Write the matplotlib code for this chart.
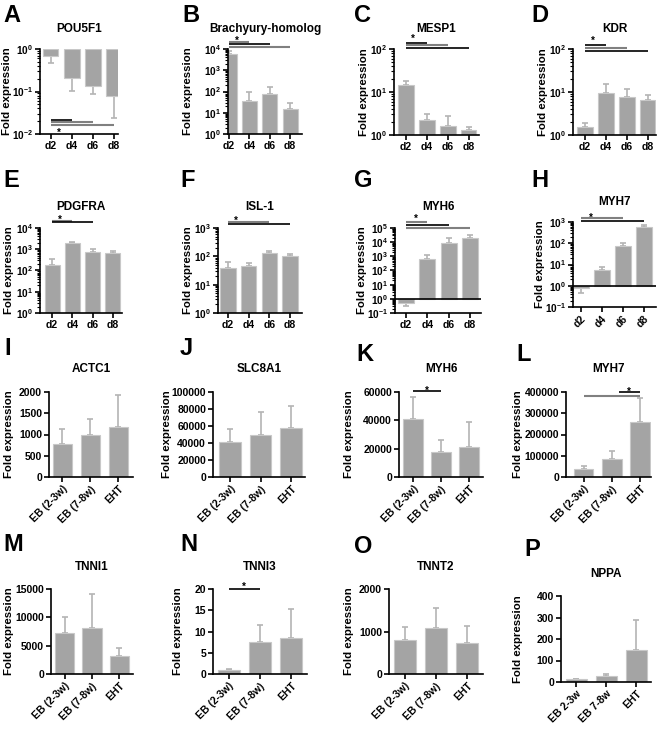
import numpy as np
import matplotlib
matplotlib.use("Agg")
import matplotlib.pyplot as plt
from matplotlib.ticker import FuncFormatter, LogLocator, NullFormatter, MultipleLocator

plt.rcParams.update({
    "font.family": ["Liberation Sans", "DejaVu Sans"],
    "font.weight": "bold",
    "font.size": 7.5,
    "mathtext.fontset": "custom",
    "mathtext.rm": "Liberation Sans:bold",
    "mathtext.bf": "Liberation Sans:bold",
    "axes.linewidth": 1.2,
})

# ---- data -------------------------------------------------------------
days = ["d2", "d4", "d6", "d8"]
groups = ["EB (2-3w)", "EB (7-8w)", "EHT"]
groups_nppa = ["EB 2-3w", "EB 7-8w", "EHT"]

# mean and tip of the error bar per group
pou5f1 = [0.68, 0.205, 0.137, 0.079]
pou5f1_err = [0.48, 0.105, 0.086, 0.024]
brachyury = [5600, 35, 74, 14.5]
brachyury_err = [8300, 91, 170, 28]
mesp1 = [14.6, 2.24, 1.65, 1.3]
mesp1_err = [18.3, 3.1, 2.7, 1.56]
kdr = [1.55, 9.4, 7.6, 6.5]
kdr_err = [1.95, 15.4, 11.6, 8.5]
pdgfra = [180, 1900, 740, 660]
pdgfra_err = [350, 2200, 1080, 830]
isl1 = [38, 46, 134, 103]
isl1_err = [65, 57, 158, 118]
myh6_days = [0.51, 610, 9100, 21000]
myh6_days_err = [0.33, 1180, 18700, 30000]
myh7_days = [0.81, 5.3, 77, 600]
myh7_days_err = [0.47, 7.9, 100, 720]

actc1 = [784, 996, 1180]
actc1_err = [1137, 1375, 1935]
slc8a1 = [41500, 50000, 58000]
slc8a1_err = [56000, 76000, 83500]
myh6_eb = [40700, 17600, 21400]
myh6_eb_err = [56300, 26100, 39000]
myh7_eb = [40000, 84000, 257000]
myh7_eb_err = [53000, 122000, 373000]
tnni1 = [7230, 8110, 3230]
tnni1_err = [10000, 14170, 4590]
tnni3 = [1.0, 7.45, 8.5]
tnni3_err = [1.25, 11.45, 15.4]
tnnt2 = [808, 1075, 729]
tnnt2_err = [1106, 1553, 1122]
nppa = [12.4, 26, 148]
nppa_err = [15.6, 36, 288]

# significance bars: (from, to, height, colour) and star (x, height)
GR = "#808080"
sig = {
    "A": ([(0, 1, 0.0214, "k"), (0, 2, 0.0188, GR), (0, 3, 0.0163, GR)], (0.4, 0.0131)),
    "B": ([(0, 1, 2.1e4, GR), (0, 2, 1.7e4, "k"), (0, 3, 1.24e4, GR)], (0.4, 3.6e4)),
    "C": ([(0, 1, 138, "k"), (0, 2, 124, GR), (0, 3, 105, "k")], (0.35, 213)),
    "D": ([(0, 1, 124, "k"), (0, 2, 107, GR), (0, 3, 91, "k")], (0.38, 183)),
    "E": ([(0, 1, 2.1e4, GR), (0, 2, 1.9e4, "k")], (0.4, 3.4e4)),
    "F": ([(0, 2, 1670, GR), (0, 3, 1420, "k")], (0.38, 2400)),
    "G": ([(0, 1, 2.5e5, GR), (0, 2, 1.7e5, "k"), (0, 3, 1.05e5, GR)], (0.45, 8.3e5)),
    "H": ([(0, 2, 1500, GR), (0, 3, 1110, "k")], (0.47, 2200)),
    "K": ([(0, 1, 60500, "k")], (0.5, 63500)),
    "L": ([(0, 2, 381000, GR), (1.25, 2, 400000, "k")], (1.6, 415000)),
    "N": ([(0, 1, 20, "k")], (0.5, 21.3)),
}

# ---- layout (pixels) ---------------------------------------------------
W, H = 662, 731
BAR, EDGE, ERR = "#a4a4a4", "#c8c8c8", "#b4b4b4"

fig = plt.figure(figsize=(W / 100, H / 100), dpi=100)


def px_ax(x1, x2, y1, y2):
    return fig.add_axes([x1 / W, 1 - y2 / H, (x2 - x1) / W, (y2 - y1) / H])


panels = [
    # letter, title, cats, vals, errs, box, ylabel x, title y, letter xy, ylim, step, xlim, rotated
    ("A", "POU5F1", days, pou5f1, pou5f1_err, (40, 118, 49, 134), 7, 29, (3, 4), (-2, 0), None, (-0.5, 3.2), False),
    ("B", "Brachyury-homolog", days, brachyury, brachyury_err, (228, 302, 49, 134), 188, 29, (182, 4), (0, 4), None, (-0.05, 3.58), False),
    ("C", "MESP1", days, mesp1, mesp1_err, (394, 479, 49, 135), 364, 29, (354, 4), (0, 2), None, (-0.57, 3.5), False),
    ("D", "KDR", days, kdr, kdr_err, (573, 656, 49, 135), 543, 29, (531, 4), (0, 2), None, (-0.57, 3.4), False),
    ("E", "PDGFRA", days, pdgfra, pdgfra_err, (40, 122, 228, 313), 9, 207, (3, 169), (0, 4), None, (-0.6, 3.45), False),
    ("F", "ISL-1", days, isl1, isl1_err, (218, 302, 228, 313), 188, 207, (180, 169), (0, 3), None, (-0.48, 3.58), False),
    ("G", "MYH6", days, myh6_days, myh6_days_err, (395, 481, 228, 313), 362, 207, (354, 169), (-1, 5), None, (-0.5, 3.5), False),
    ("H", "MYH7", days, myh7_days, myh7_days_err, (573, 656, 222, 307), 540, 202, (531, 169), (-1, 3), None, (-0.37, 3.57), True),
    ("I", "ACTC1", groups, actc1, actc1_err, (49, 133, 392, 477), 9, 369, (4, 337), (0, 2000), 500, (-0.48, 2.52), True),
    ("J", "SLC8A1", groups, slc8a1, slc8a1_err, (213, 305, 392, 477), 167, 369, (180, 337), (0, 100000), 20000, (-0.55, 2.45), True),
    ("K", "MYH6", groups, myh6_eb, myh6_eb_err, (399, 483, 392, 477), 349, 369, (356, 343), (0, 60000), 20000, (-0.5, 2.5), True),
    ("L", "MYH7", groups, myh7_eb, myh7_eb_err, (566, 651, 392, 477), 518, 369, (516, 343), (0, 400000), 100000, (-0.62, 2.38), True),
    ("M", "TNNI1", groups, tnni1, tnni1_err, (51, 133, 589, 674), 9, 567, (3, 533), (0, 15000), 5000, (-0.5, 2.5), True),
    ("N", "TNNI3", groups, tnni3, tnni3_err, (213, 307, 589, 674), 178, 567, (180, 533), (0, 20), 5, (-0.5, 2.5), True),
    ("O", "TNNT2", groups, tnnt2, tnnt2_err, (389, 483, 589, 674), 349, 567, (354, 535), (0, 2000), 1000, (-0.5, 2.5), True),
    ("P", "NPPA", groups_nppa, nppa, nppa_err, (561, 651, 596, 682), 518, 574, (524, 538), (0, 400), 100, (-0.5, 2.5), True),
]

for letter, title, cats, vals, errs, box, ylx, ty, lxy, ylim, step, xlim, rot in panels:
    x1, x2, y1, y2 = box
    ax = px_ax(*box)
    vals = np.asarray(vals, float)
    errs = np.asarray(errs, float)
    x = np.arange(len(cats))
    log = step is None
    base = 1.0 if log else 0.0
    width = 0.75 if len(cats) == 4 else 0.7

    up = np.where(errs >= vals, errs - vals, 0)
    lo = np.where(errs < vals, vals - errs, 0)
    ax.errorbar(x, vals, yerr=[lo, up], fmt="none", ecolor=ERR, elinewidth=1.2,
                capsize=2.5, capthick=1.2, zorder=1)
    ax.bar(x, vals - base, bottom=base, width=width, color=BAR, edgecolor=EDGE,
           linewidth=0.8, zorder=2)

    if log:
        ax.set_yscale("log")
        ax.set_ylim(10.0 ** ylim[0], 10.0 ** ylim[1])
        ax.yaxis.set_major_locator(LogLocator(base=10, numticks=20))
        ax.yaxis.set_minor_locator(LogLocator(base=10, subs=np.arange(2, 10), numticks=20))
        ax.yaxis.set_minor_formatter(NullFormatter())
        ax.yaxis.set_major_formatter(FuncFormatter(
            lambda v, p: r"$\mathbf{10^{%d}}$" % round(np.log10(v))))
        if ylim[0] < 0 < ylim[1]:
            ax.axhline(1, color="k", lw=1.2, zorder=3)
    else:
        ax.set_ylim(*ylim)
        ax.yaxis.set_major_locator(MultipleLocator(step))
        ax.yaxis.set_major_formatter(FuncFormatter(lambda v, p: "%d" % v))

    ax.set_xlim(*xlim)
    ax.set_xticks(x)
    if rot:
        ax.set_xticklabels(cats, rotation=45, ha="right", rotation_mode="anchor")
    else:
        ax.set_xticklabels(cats)

    for s in ("top", "right"):
        ax.spines[s].set_visible(False)
    ax.tick_params(which="major", length=3.5, width=1.2, pad=1.5, labelsize=7.5)
    ax.tick_params(axis="y", which="major", labelsize=7.2 if log else 7.5)
    ax.tick_params(which="minor", length=2, width=0.8)
    ax.tick_params(axis="x", which="minor", length=0)

    ax.set_ylabel("Fold expression", fontsize=8.2, fontweight="bold", va="center")
    ax.yaxis.set_label_coords((ylx - x1) / (x2 - x1), 0.5)

    fig.text((x1 + x2) / 2 / W, 1 - ty / H, title, ha="center", va="center",
             fontsize=8.5, fontweight="bold")
    fig.text(lxy[0] / W, 1 - lxy[1] / H, letter, ha="left", va="top",
             fontsize=17, fontweight="bold")

    if letter in sig:
        lines, star = sig[letter]
        for a, b, h, c in lines:
            ax.plot([a, b], [h, h], color=c, lw=1.5 if c == GR else 1.2,
                    clip_on=False, zorder=4, solid_capstyle="butt")
        ax.annotate("*", xy=star, xytext=(0, -2.5), textcoords="offset points",
                    ha="center", va="center", fontsize=7, annotation_clip=False)

fig.savefig("out.png", dpi=100)
